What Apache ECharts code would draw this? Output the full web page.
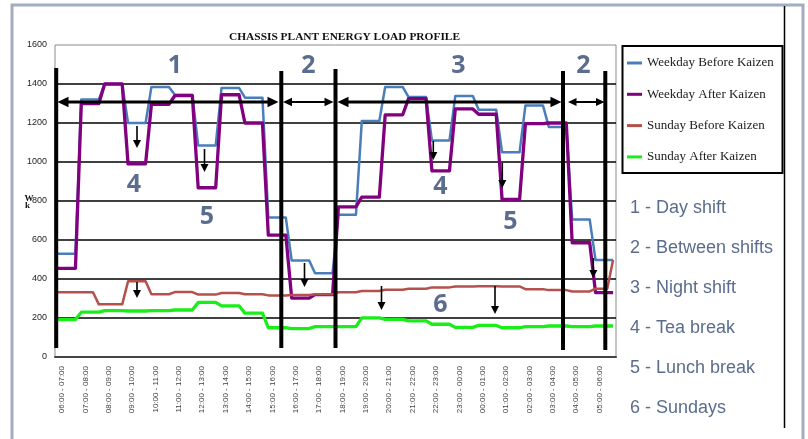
<!DOCTYPE html>
<html>
<head>
<meta charset="utf-8">
<script src="https://cdn.jsdelivr.net/npm/echarts@6/dist/echarts.min.js"></script>
<style>
  html, body { margin: 0; padding: 0; background: #fff; }
  #main { width: 808px; height: 439px; }
</style>
</head>
<body>
<div id="main"></div>
<script>
// Hourly tick labels along the time axis (one label per hour)
const hourLabels = [
  '06:00 - 07:00', '07:00 - 08:00', '08:00 - 09:00', '09:00 - 10:00',
  '10:00 - 11:00', '11:00 - 12:00', '12:00 - 13:00', '13:00 - 14:00',
  '14:00 - 15:00', '15:00 - 16:00', '16:00 - 17:00', '17:00 - 18:00',
  '18:00 - 19:00', '19:00 - 20:00', '20:00 - 21:00', '21:00 - 22:00',
  '22:00 - 23:00', '23:00 - 00:00', '00:00 - 01:00', '01:00 - 02:00',
  '02:00 - 03:00', '03:00 - 04:00', '04:00 - 05:00', '05:00 - 06:00'
];
const quarterMarks = ['00', '15', '30', '45'];

// Load readings in kW, one per quarter hour
const weekdayBefore = [
  530, 530, 530, 530,   1320, 1320, 1320, 1320,   1400, 1400, 1400, 1400,
  1200, 1200, 1200, 1200,   1385, 1385, 1385, 1385,   1345, 1345, 1345, 1345,
  1085, 1085, 1085, 1085,   1380, 1380, 1380, 1380,   1330, 1330, 1330, 1330,
  715, 715, 715, 715,   495, 495, 495, 495,   430, 430, 430, 430,
  730, 730, 730, 730,   1210, 1210, 1210, 1210,   1385, 1385, 1385, 1385,
  1333, 1333, 1333, 1333,   1110, 1110, 1110, 1110,   1338, 1338, 1338, 1338,
  1268, 1268, 1268, 1268,   1050, 1050, 1050, 1050,   1290, 1290, 1290, 1290,
  1180, 1180, 1180, 1180,   705, 705, 705, 705,   497, 497, 497, 497
];
const weekdayAfter = [
  455, 455, 455, 455,   1300, 1300, 1300, 1300,   1400, 1400, 1400, 1400,
  990, 990, 990, 990,   1296, 1296, 1296, 1296,   1340, 1340, 1340, 1340,
  868, 868, 868, 868,   1345, 1345, 1345, 1345,   1200, 1200, 1200, 1200,
  625, 625, 625, 625,   302, 302, 302, 302,   320, 320, 320, 320,
  770, 770, 770, 770,   820, 820, 820, 820,   1242, 1242, 1242, 1242,
  1325, 1325, 1325, 1325,   955, 955, 955, 955,   1272, 1272, 1272, 1272,
  1245, 1245, 1245, 1245,   808, 808, 808, 808,   1197, 1197, 1197, 1197,
  1200, 1200, 1200, 1200,   586, 586, 586, 586,   330, 330, 330, 330
];
const sundayBefore = [
  332, 332, 332, 332,   332, 332, 332, 270,   270, 270, 270, 270,
  388, 388, 388, 388,   322, 322, 322, 322,   333, 333, 333, 333,
  320, 320, 320, 320,   328, 328, 328, 328,   322, 322, 322, 322,
  316, 316, 316, 316,   318, 318, 318, 318,   322, 322, 322, 322,
  332, 332, 332, 332,   338, 338, 338, 338,   345, 345, 345, 345,
  350, 350, 350, 350,   357, 357, 357, 357,   362, 362, 362, 362,
  363, 363, 363, 363,   362, 362, 362, 362,   348, 348, 348, 348,
  343, 343, 343, 343,   336, 336, 336, 336,   350, 350, 350, 497
];
const sundayAfter = [
  192, 192, 192, 192,   230, 230, 230, 230,   238, 238, 238, 238,
  236, 236, 236, 236,   238, 238, 238, 238,   241, 241, 241, 241,
  280, 280, 280, 280,   262, 262, 262, 262,   225, 225, 225, 225,
  150, 150, 150, 150,   146, 146, 146, 146,   156, 156, 156, 156,
  156, 156, 156, 156,   201, 201, 201, 201,   193, 193, 193, 193,
  185, 185, 185, 185,   168, 168, 168, 168,   152, 152, 152, 152,
  162, 162, 162, 162,   150, 150, 150, 150,   156, 156, 156, 156,
  159, 159, 159, 159,   156, 156, 156, 156,   159, 159, 159, 159
];

const seriesNames = ['Weekday Before Kaizen', 'Weekday After Kaizen', 'Sunday Before Kaizen', 'Sunday After Kaizen'];
const keyNotes = ['1 - Day shift', '2 - Between shifts', '3 - Night shift', '4 - Tea break', '5 - Lunch break', '6 - Sundays'];

// Quarter-hour categories, built from the hour labels
const categories = [];
hourLabels.forEach(function (h) {
  quarterMarks.forEach(function (q) { categories.push(h.slice(0, 3) + q); });
});

const ink = '#000';
const noteColor = '#5b6d8e';

function hArrow(x1, x2, y, w, head, half) {
  return [
    { type: 'line', shape: { x1: x1 + head * 0.7, y1: y, x2: x2 - head * 0.7, y2: y }, style: { stroke: ink, lineWidth: w } },
    { type: 'polygon', shape: { points: [[x1, y], [x1 + head, y - half], [x1 + head, y + half]] }, style: { fill: ink } },
    { type: 'polygon', shape: { points: [[x2, y], [x2 - head, y - half], [x2 - head, y + half]] }, style: { fill: ink } }
  ];
}
function vArrow(x, y1, y2) {
  return [
    { type: 'line', shape: { x1: x, y1: y1, x2: x, y2: y2 - 5 }, style: { stroke: ink, lineWidth: 1.6 } },
    { type: 'polygon', shape: { points: [[x, y2], [x - 4, y2 - 8], [x + 4, y2 - 8]] }, style: { fill: ink } }
  ];
}
function vBar(x, y1, y2) {
  return { type: 'line', shape: { x1: x, y1: y1, x2: x, y2: y2 }, style: { stroke: ink, lineWidth: 4 } };
}
function bigNum(t, x, y) {
  return { type: 'text', x: x, y: y, style: { text: t, fill: noteColor, font: 'bold 25px "Open Sans", sans-serif', textAlign: 'center', textVerticalAlign: 'middle' } };
}

let deco = [];
// outer frame and divider
deco.push({ type: 'rect', shape: { x: 12, y: 5, width: 791, height: 460 }, style: { fill: 'none', stroke: '#a3acc0', lineWidth: 3 }, z: 0 });
deco.push({ type: 'line', shape: { x1: 784.5, y1: 6, x2: 784.5, y2: 428 }, style: { stroke: ink, lineWidth: 1.5 } });
// legend box
deco.push({ type: 'rect', shape: { x: 622.5, y: 46, width: 160, height: 127 }, style: { fill: 'none', stroke: ink, lineWidth: 2 } });
// shift boundaries
deco.push(vBar(56.2, 68, 348), vBar(281.3, 71, 348), vBar(335.5, 69, 348), vBar(563, 71, 350), vBar(605.3, 71, 350));
// shift spans
deco = deco.concat(hArrow(57.5, 278.5, 102, 3, 11, 5.3));
deco = deco.concat(hArrow(283, 333.5, 102, 2, 9, 4.2));
deco = deco.concat(hArrow(337.5, 561.5, 102, 3, 11, 5.3));
deco = deco.concat(hArrow(568, 604.5, 102, 2, 8.5, 4));
// reductions
deco = deco.concat(vArrow(137, 126, 148));
deco = deco.concat(vArrow(204.5, 149, 172));
deco = deco.concat(vArrow(137, 282, 298));
deco = deco.concat(vArrow(304.5, 263, 287));
deco = deco.concat(vArrow(381.5, 286, 310));
deco = deco.concat(vArrow(433.3, 141, 160));
deco = deco.concat(vArrow(502.3, 163, 188));
deco = deco.concat(vArrow(495, 286, 314));
deco = deco.concat(vArrow(593.3, 258, 278));
// period numbers
deco.push(bigNum('1', 175, 66), bigNum('2', 308.5, 66), bigNum('3', 458.5, 66), bigNum('2', 583.5, 66));
deco.push(bigNum('4', 134, 185), bigNum('5', 207, 217), bigNum('4', 440.5, 186.5), bigNum('5', 510.5, 221.5), bigNum('6', 440.5, 305));
// axis unit
deco.push({ type: 'text', x: 29, y: 199, style: { text: 'W', font: 'bold 9px "Liberation Serif", serif', fill: '#111', textAlign: 'center', textVerticalAlign: 'middle' } });
deco.push({ type: 'text', x: 27.5, y: 205.5, style: { text: 'k', font: 'bold 9px "Liberation Serif", serif', fill: '#111', textAlign: 'center', textVerticalAlign: 'middle' } });
// key notes
keyNotes.forEach(function (t, i) {
  deco.push({ type: 'text', x: 630, y: 208.5 + i * 40, style: { text: t, font: '18px "Liberation Sans", Arial, sans-serif', fill: noteColor, textAlign: 'left', textVerticalAlign: 'middle' } });
});
deco.forEach(function (g) { if (g.z === undefined) g.z = 100; });

const colors = ['#4a7ebb', '#800080', '#b5514c', '#19ee19'];
const widths = [2.5, 3.3, 2.5, 3.3];
const values = [weekdayBefore, weekdayAfter, sundayBefore, sundayAfter];

const chart = echarts.init(document.getElementById('main'), null, { renderer: 'canvas' });
chart.setOption({
  backgroundColor: '#fff',
  animation: false,
  title: {
    text: 'CHASSIS PLANT ENERGY LOAD PROFILE',
    left: 339.5, top: 27, textAlign: 'center',
    textStyle: { fontFamily: '"Liberation Serif", serif', fontWeight: 'bold', fontSize: 11.4, color: '#111' }
  },
  legend: {
    orient: 'vertical', left: 627, top: 56, padding: 0,
    icon: 'rect', itemWidth: 15, itemHeight: 3, itemGap: 17.3,
    textStyle: { fontFamily: '"Liberation Serif", serif', fontSize: 13, lineHeight: 14, color: '#1a1a1a' },
    data: seriesNames
  },
  grid: { left: 55, top: 45, width: 561, height: 312, show: true, borderColor: '#8c8c8c', borderWidth: 1, containLabel: false },
  xAxis: {
    type: 'category', data: categories, boundaryGap: true,
    axisTick: { show: false },
    axisLine: { lineStyle: { color: '#444', width: 2 } },
    axisLabel: {
      interval: 3, rotate: 90, margin: 9, fontSize: 8, color: '#444',
      fontFamily: '"Liberation Sans", Arial, sans-serif', verticalAlign: 'top',
      formatter: function (v, i) { return hourLabels[Math.floor(i / 4)]; }
    },
    splitLine: { show: false }
  },
  yAxis: {
    type: 'value', min: 0, max: 1600, interval: 200,
    axisLine: { show: false }, axisTick: { show: false },
    axisLabel: {
      fontSize: 9, color: '#222', margin: 8, fontFamily: '"Liberation Sans", Arial, sans-serif',
      formatter: function (v) { return String(v); }
    },
    splitLine: { show: true, showMinLine: false, showMaxLine: false, lineStyle: { color: '#000', width: 1.5 } }
  },
  series: seriesNames.map(function (name, k) {
    return {
      name: name, type: 'line', data: values[k], symbol: 'none',
      lineStyle: { color: colors[k], width: widths[k], join: 'round' },
      itemStyle: { color: colors[k] }, z: 2 + k
    };
  }),
  graphic: deco
});
</script>
</body>
</html>
